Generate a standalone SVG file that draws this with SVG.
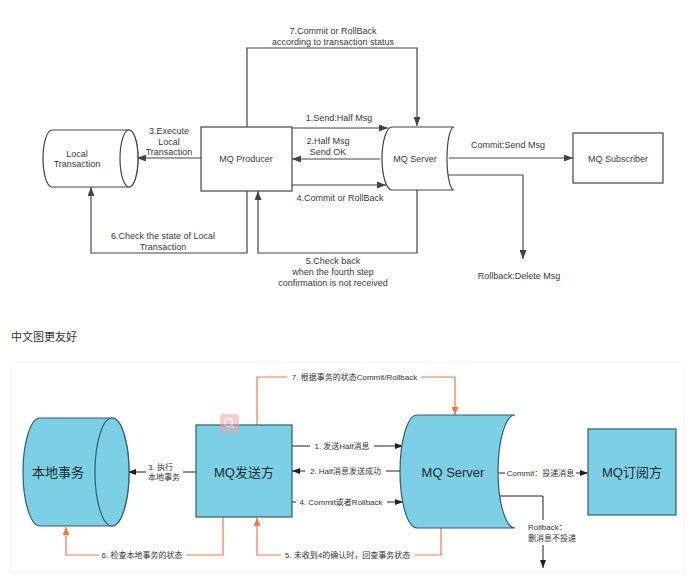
<svg xmlns="http://www.w3.org/2000/svg" width="688" height="579" viewBox="0 0 688 579">
<style>
.t{font-family:"Liberation Sans","DejaVu Sans",sans-serif;font-size:9px;fill:#3a3a3a;text-anchor:middle}
.c{font-family:"Liberation Sans","Noto Sans CJK SC",sans-serif;font-size:8px;fill:#333;text-anchor:middle}
.cl{font-family:"Liberation Sans","Noto Sans CJK SC",sans-serif;font-size:8px;fill:#333}
.big{font-family:"Liberation Sans","Noto Sans CJK SC",sans-serif;font-size:13px;fill:#1f2b30;text-anchor:middle}
.ln{fill:none;stroke:#444;stroke-width:1.2}
.bk{fill:none;stroke:#222;stroke-width:1}
.or{fill:none;stroke:#ef7a45;stroke-width:1.2}
.wn{fill:#fff;stroke:#444;stroke-width:1.2}
.cy{fill:#7ccfe5;stroke:#2d5f6e;stroke-width:1.2}
</style>
<defs>
<marker id="ag" markerWidth="9" markerHeight="7" refX="9" refY="3.5" orient="auto" markerUnits="userSpaceOnUse"><path d="M0,0 L9,3.5 L0,7 z" fill="#444"/></marker>
<marker id="ak" markerWidth="8" markerHeight="6" refX="8" refY="3" orient="auto" markerUnits="userSpaceOnUse"><path d="M0,0 L8,3 L0,6 z" fill="#222"/></marker>
<marker id="ao" markerWidth="8" markerHeight="7" refX="8" refY="3.5" orient="auto" markerUnits="userSpaceOnUse"><path d="M0,0 L8,3.5 L0,7 z" fill="#ef7a45"/></marker>
</defs>
<rect width="688" height="579" fill="#fff"/>

<!-- ===== Top diagram ===== -->
<g id="connectors-top">
<path class="ln" d="M247,127 V48 H417 V126" marker-end="url(#ag)"/>
<path class="ln" d="M292,128 H388" marker-end="url(#ag)"/>
<path class="ln" d="M380,159 H292" marker-end="url(#ag)"/>
<path class="ln" d="M292,185 H386" marker-end="url(#ag)"/>
<path class="ln" d="M201,158 H137" marker-end="url(#ag)"/>
<path class="ln" d="M417,190 V253 H258 V191" marker-end="url(#ag)"/>
<path class="ln" d="M247,191 V253 H91 V187" marker-end="url(#ag)"/>
<path class="ln" d="M449,158 H573" marker-end="url(#ag)"/>
<path class="ln" d="M447,175 H523 V259" marker-end="url(#ag)"/>
<text class="t" x="333" y="34">7.Commit or RollBack</text>
<text class="t" x="333" y="45">according to transaction status</text>
<text class="t" x="339" y="121">1.Send:Half Msg</text>
<text class="t" x="328" y="144">2.Half Msg</text>
<text class="t" x="328" y="155">Send OK</text>
<text class="t" x="340" y="201">4.Commit or RollBack</text>
<text class="t" x="169" y="134">3.Execute</text>
<text class="t" x="169" y="145">Local</text>
<text class="t" x="169" y="155">Transaction</text>
<text class="t" x="333" y="264">5.Check back</text>
<text class="t" x="333" y="275">when the fourth step</text>
<text class="t" x="333" y="286">confirmation is not received</text>
<text class="t" x="163" y="239">6.Check the state of Local</text>
<text class="t" x="163" y="250">Transaction</text>
<text class="t" x="508" y="148">Commit:Send Msg</text>
<text class="t" x="519" y="279">Rollback:Delete Msg</text>
</g>
<g id="local-transaction">
<path class="wn" d="M52,130 H129 A9,28.5 0 0 1 129,187 H52 A9,28.5 0 0 1 52,130 Z"/>
<ellipse class="wn" cx="129" cy="158.5" rx="9" ry="28.5"/>
<text class="t" x="77" y="157">Local</text>
<text class="t" x="77" y="167">Transaction</text>
</g>
<g id="mq-producer">
<rect class="wn" x="201" y="127" width="91" height="64"/>
<text class="t" x="246" y="162">MQ Producer</text>
</g>
<g id="mq-server">
<path class="wn" d="M392,127 H454 A7,31.5 0 0 0 454,190 H392 A10,31.5 0 0 1 392,127 Z"/>
<text class="t" x="415" y="162">MQ Server</text>
</g>
<g id="mq-subscriber">
<rect class="wn" x="573" y="133" width="90" height="50"/>
<text class="t" x="618" y="162">MQ Subscriber</text>
</g>

<!-- ===== Caption ===== -->
<text x="11" y="341" font-family="'Noto Sans CJK SC',sans-serif" font-size="11" fill="#333">中文图更友好</text>

<!-- ===== Bottom diagram ===== -->
<rect x="11" y="362" width="673" height="211" fill="none" stroke="#f3f3f3" stroke-width="1"/>
<g id="connectors-bottom">
<path class="bk" d="M196,472 H183"/>
<path class="bk" d="M146,472 H128" marker-end="url(#ak)"/>
<path class="bk" d="M292,446 H310"/>
<path class="bk" d="M374,446 H403" marker-end="url(#ak)"/>
<path class="bk" d="M400,471 H386"/>
<path class="bk" d="M305,471 H292" marker-end="url(#ak)"/>
<path class="bk" d="M292,502 H296"/>
<path class="bk" d="M387,502 H403" marker-end="url(#ak)"/>
<path class="bk" d="M498,473 H505"/>
<path class="bk" d="M576,473 H588" marker-end="url(#ak)"/>
<path class="bk" d="M499,496 H543 V520"/>
<path class="bk" d="M543,545 V568" marker-end="url(#ak)"/>
<path class="or" d="M257,425 V377 H287"/>
<path class="or" d="M421,377 H455 V415" marker-end="url(#ao)"/>
<path class="or" d="M441,528 V555 H415"/>
<path class="or" d="M281,555 H257 V518" marker-end="url(#ao)"/>
<path class="or" d="M223,517 V555 H186"/>
<path class="or" d="M99,555 H66 V527" marker-end="url(#ao)"/>
<text class="cl" x="148" y="470">3. 执行</text>
<text class="cl" x="148" y="480">本地事务</text>
<text class="c" x="342" y="449">1. 发送Half消息</text>
<text class="c" x="345.5" y="474">2. Half消息发送成功</text>
<text class="c" x="341" y="505">4. Commit或者Rollback</text>
<text class="c" x="354.5" y="380">7. 根据事务的状态Commit/Rollback</text>
<text class="c" x="347.5" y="558">5. 未收到4的确认时，回查事务状态</text>
<text class="c" x="142" y="558">6. 检查本地事务的状态</text>
<text class="c" x="540.5" y="476">Commit：投递消息</text>
<text class="cl" x="528" y="530">Rollback：</text>
<text class="cl" x="528" y="541">删消息不投递</text>
</g>
<g id="local-tx-cn">
<path class="cy" d="M40,418 H112 A17,54 0 0 1 112,526 H40 A17,54 0 0 1 40,418 Z"/>
<ellipse class="cy" cx="112" cy="472" rx="17" ry="54"/>
<text class="big" x="58" y="477">本地事务</text>
</g>
<g id="producer-cn">
<rect class="cy" x="196" y="425" width="96" height="92"/>
<text class="big" x="244" y="477">MQ发送方</text>
</g>
<g id="server-cn">
<path class="cy" d="M417,415 H515 A17,56.5 0 0 0 515,528 H417 A17,56.5 0 0 1 417,415 Z"/>
<text class="big" x="453" y="477">MQ Server</text>
</g>
<g id="subscriber-cn">
<rect class="cy" x="588" y="429" width="88" height="86"/>
<text class="big" x="632" y="477">MQ订阅方</text>
</g>
<g id="overlay-icon" opacity="0.55">
<rect x="220" y="414" width="19" height="19" rx="3" fill="#f3a1a8"/>
<circle cx="228.5" cy="422.5" r="4" fill="none" stroke="#fff" stroke-width="1.3"/>
<path d="M231.5,425.5 L234,428" stroke="#fff" stroke-width="1.3"/>
</g>
</svg>
